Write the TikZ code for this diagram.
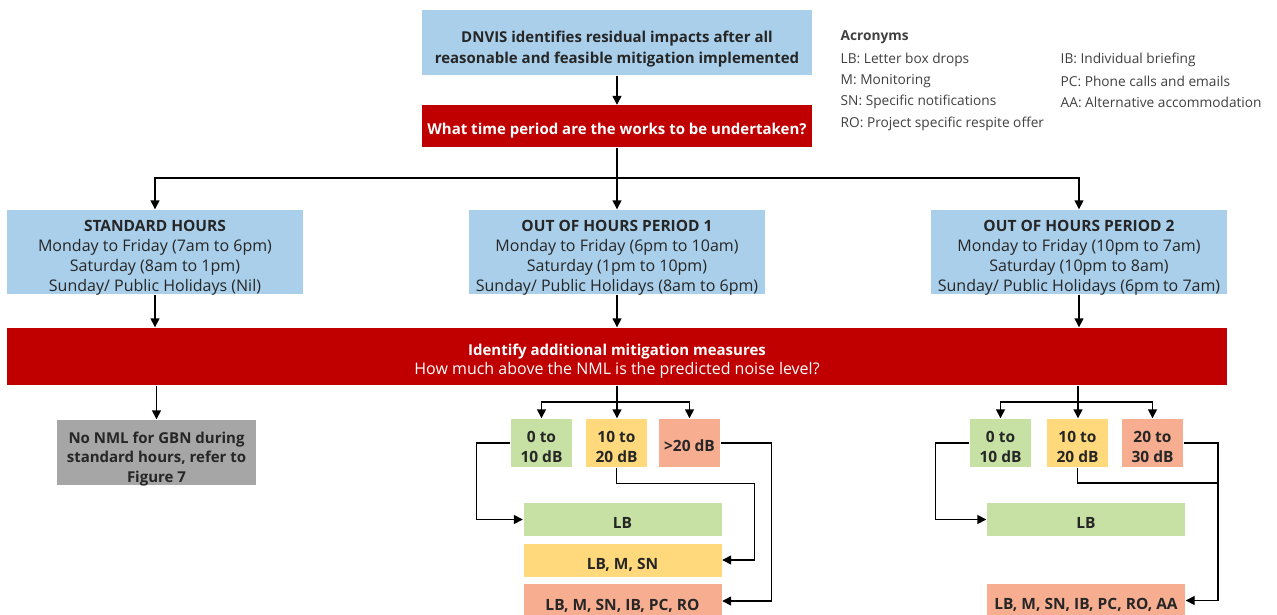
\documentclass[tikz,border=0pt]{standalone}
\usepackage{fontspec}
\setmainfont{Open Sans}
\usetikzlibrary{arrows.meta}

\definecolor{hoursblue}{HTML}{AACFEA}
\definecolor{alertred}{HTML}{C00000}
\definecolor{lowgreen}{HTML}{C6E1A3}
\definecolor{midyellow}{HTML}{FFD97C}
\definecolor{highsalmon}{HTML}{F7AD90}
\definecolor{nogrey}{HTML}{A6A6A6}
\definecolor{inktext}{HTML}{262626}
\definecolor{acrotext}{HTML}{404040}

\tikzset{every picture/.style={line width=1.4pt}}
\tikzset{
  box/.style={inner sep=0pt, align=center, text=inktext,
    font=\fontsize{16}{20}\selectfont, text depth=0pt},
  boldbox/.style={box, font=\fontsize{15}{20}\selectfont\bfseries},
  oneline/.style={text height=17pt},
  twolines/.style={text height=38pt},
  hoursbox/.style={box, fill=hoursblue, text height=78pt},
  alertbox/.style={fill=alertred, text=white},
  lowbox/.style={boldbox, fill=lowgreen},
  midbox/.style={boldbox, fill=midyellow},
  highbox/.style={boldbox, fill=highsalmon},
  levelbox/.style={minimum width=61pt, minimum height=48pt, font=\fontsize{15.5}{20}\selectfont\bfseries},
  measurebox/.style={minimum width=198pt, minimum height=33pt, text height=18pt, font=\fontsize{15.5}{20}\selectfont\bfseries},
  acro/.style={anchor=west, inner sep=0pt, text=acrotext,
    font=\fontsize{13.7}{16}\selectfont},
  flow/.style={-{Triangle[length=9pt,width=9pt]}}
}

\begin{document}
\begin{tikzpicture}[x=1pt,y=1pt,yscale=-1,xscale=1]
\useasboundingbox (0,0) rectangle (1277,615);

% Start and question
\node[boldbox, fill=hoursblue, font=\fontsize{15}{21}\selectfont\bfseries, text height=43pt, minimum width=390pt, minimum height=65pt] (start) at (617,42.5)
  {DNVIS identifies residual impacts after all\\reasonable and feasible mitigation implemented};
\node[boldbox, alertbox, text height=16pt, minimum width=390pt, minimum height=42pt] (period) at (617,126.5)
  {What time period are the works to be undertaken?};
\coordinate (split) at (617,178);

% Time periods
\node[hoursbox, minimum width=296pt, minimum height=84pt] (standard) at (155,252)
  {\textbf{\fontsize{15.5}{20}\selectfont STANDARD HOURS}\\Monday to Friday (7am to 6pm)\\Saturday (8am to 1pm)\\Sunday/ Public Holidays (Nil)};
\node[hoursbox, minimum width=296pt, minimum height=84pt] (oohone) at (617,252)
  {\textbf{\fontsize{15.5}{20}\selectfont OUT OF HOURS PERIOD 1}\\Monday to Friday (6pm to 10am)\\Saturday (1pm to 10pm)\\Sunday/ Public Holidays (8am to 6pm)};
\node[hoursbox, minimum width=296pt, minimum height=84pt] (oohtwo) at (1079,252)
  {\textbf{\fontsize{15.5}{20}\selectfont OUT OF HOURS PERIOD 2}\\Monday to Friday (10pm to 7am)\\Saturday (10pm to 8am)\\Sunday/ Public Holidays (6pm to 7am)};

% Additional mitigation
\node[box, alertbox, text height=36pt, font=\fontsize{16}{19}\selectfont, minimum width=1220pt, minimum height=57pt] (identify) at (617,356.5)
  {\textbf{\fontsize{15}{19}\selectfont Identify additional mitigation measures}\\How much above the NML is the predicted noise level?};
\node[boldbox, fill=nogrey, text height=59pt, font=\fontsize{15}{19.5}\selectfont\bfseries, minimum width=199pt, minimum height=65pt] (nonml) at (156.5,452.5)
  {No NML for GBN during\\standard hours, refer to\\Figure 7};

% Period 1 levels
\coordinate (onesplit) at (617,402);
\node[lowbox, levelbox, twolines] (onelow) at (541.5,443) {0 to\\10 dB};
\node[midbox, levelbox, twolines] (onemid) at (616.5,443) {10 to\\20 dB};
\node[highbox, levelbox, oneline] (onehigh) at (689.5,443) {>20 dB};
\node[lowbox, measurebox] (onelb) at (622.5,519.5) {LB};
\node[midbox, measurebox] (onelbm) at (622.5,560) {LB, M, SN};
\node[highbox, measurebox, minimum height=34pt] (oneall) at (622.5,601) {LB, M, SN, IB, PC, RO};

% Period 2 levels
\coordinate (twosplit) at (1078,402);
\node[lowbox, levelbox, twolines] (twolow) at (1000.5,443) {0 to\\10 dB};
\node[midbox, levelbox, twolines] (twomid) at (1077.5,443) {10 to\\20 dB};
\node[highbox, levelbox, twolines] (twohigh) at (1152.5,443) {20 to\\30 dB};
\node[lowbox, measurebox] (twolb) at (1086,519.5) {LB};
\node[highbox, measurebox, minimum height=34pt] (twoall) at (1086,600.5) {LB, M, SN, IB, PC, RO, AA};
\coordinate (twojoin) at (1218,483);

% Acronyms
\node[acro, font=\fontsize{13.7}{16}\selectfont\bfseries] (acrohead) at (840,37) {Acronyms};
\node[acro] (acrolb) at (840,60) {LB: Letter box drops};
\node[acro] (acrom) at (840,81) {M: Monitoring};
\node[acro] (acrosn) at (840,102) {SN: Specific notifications};
\node[acro] (acroro) at (840,124) {RO: Project specific respite offer};
\node[acro] (acroib) at (1060,60) {IB: Individual briefing};
\node[acro] (acropc) at (1060,81) {PC: Phone calls and emails};
\node[acro] (acroaa) at (1060,102) {AA: Alternative accommodation};

% Connectors
\draw[flow] (start) -- (period);
\draw (period) -- (split);
\draw[flow] (split) -| (standard.north);
\draw[flow] (split) -- (oohone.north);
\draw[flow] (split) -| (oohtwo.north);
\draw[flow] (standard) -- (standard.south |- identify.north);
\draw[flow] (oohone) -- (oohone.south |- identify.north);
\draw[flow] (oohtwo) -- (oohtwo.south |- identify.north);
\draw[flow] (identify.south -| nonml.north) -- (nonml.north);

\draw (identify.south -| onesplit) -- (onesplit);
\draw[flow] (onesplit) -| (onelow.north);
\draw[flow] (onesplit) -- (onemid.north -| onesplit);
\draw[flow] (onesplit) -| (onehigh.north);
\draw[flow] (onelow.west) -- ++(-34,0) |- (onelb.west);
\draw[flow] (onemid.south) -- ++(0,16) -| ([xshift=32pt]onelbm.east) -- (onelbm.east);
\draw[flow] (onehigh.east) -| ([xshift=49pt]oneall.east) -- (oneall.east);

\draw (identify.south -| twosplit) -- (twosplit);
\draw[flow] (twosplit) -| (twolow.north);
\draw[flow] (twosplit) -- (twomid.north -| twosplit);
\draw[flow] (twosplit) -| (twohigh.north);
\draw[flow] (twolow.west) -- ++(-34,0) |- (twolb.west);
\draw (twomid.south) |- (twojoin);
\draw[flow] (twohigh.east) -| (twojoin) |- (twoall.east);

\end{tikzpicture}
\end{document}
